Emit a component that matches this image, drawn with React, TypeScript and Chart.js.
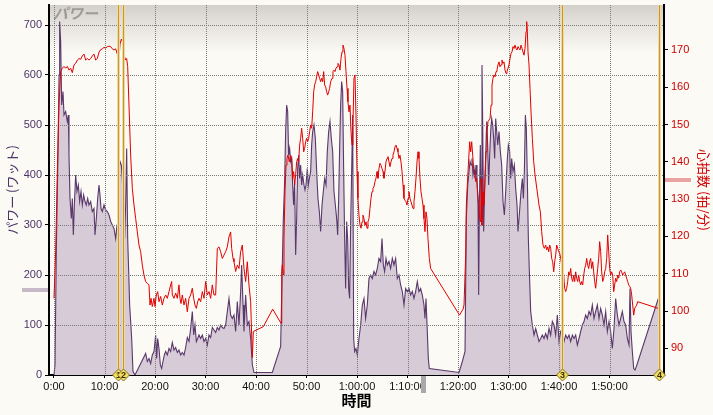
import React, { useEffect, useRef } from 'react';
import { Chart, registerables } from 'chart.js';

Chart.register(...registerables);

// ---------- data (minutes / watts / bpm) ----------
const powerMinA = [0,0.2,0.46,0.75,1.0,1.12,1.32,1.52,1.78,1.98,2.31,2.64,2.84,2.97,3.17,3.43,3.63,3.83,4.03,4.29,4.55,4.82,5.08,5.35,5.61,5.87,6.14,6.4,6.67,6.93,7.26,7.59,7.92,8.12,8.38,8.65,8.91,9.11,9.31,9.57,9.9,10.23,10.56,10.89,11.22,11.55,11.88,12.21,12.48,12.67,12.87,13.07,13.33,13.53,13.73,13.99,14.19,14.39,14.59,14.79,14.98,15.18,15.38,15.64,16.04];
const powerWA = [0,20,250,420,600,707,667,540,567,520,527,507,520,440,353,313,353,280,340,400,367,380,347,367,340,360,347,340,353,340,347,327,333,280,313,353,380,360,333,327,340,330,327,320,307,300,293,273,300,327,407,427,420,393,340,273,340,453,273,207,140,107,73,7,0];

const powerMinB = [18.15,18.48,18.81,19.14,19.47,19.8,20.13,20.33,20.53,20.79,21.06,21.32,21.58,21.85,22.11,22.44,22.77,23.1,23.43,23.76,24.09,24.42,24.75,25.08,25.41,25.74,26.07,26.4,26.73,27.06,27.39,27.66,27.92,28.19,28.45,28.71,29.04,29.37,29.7,30.03,30.36,30.69,31.02,31.35,31.68,32.01,32.34,32.67,33.0,33.33,33.66,33.99,34.32,34.65,34.98,35.31,35.64,35.97,36.3,36.63,36.96,37.16,37.43,37.62,37.95,38.28,38.61,38.94,39.28,39.6];
const powerWB = [43,27,33,23,40,47,80,33,73,53,20,13,27,40,47,40,53,47,65,50,55,45,50,40,45,40,55,75,67,93,127,80,100,67,73,80,73,80,67,73,60,80,75,95,90,85,95,90,100,95,93,100,127,153,120,113,120,87,147,100,167,220,140,87,160,100,107,73,20,5];

const powerMinC = [43.23,44.88,45.21,45.41,45.67,45.87,46.07,46.27,46.46,46.66,46.86,47.06,47.26,47.45,47.65,47.85,48.05,48.25,48.45,48.64,48.84,49.04,49.24,49.5,49.7,49.9,50.16,50.36,50.56,50.82,51.02,51.22,51.48,51.75,52.01,52.27,52.54,52.8,53.07,53.33,53.59,53.86,54.12,54.39,54.65,54.91,55.18,55.44,55.71,55.97,56.17,56.37,56.56,56.76,56.96,57.16,57.36,57.55,57.75,57.95,58.15,58.35,58.54,58.74,58.94,59.14,59.34,59.53,59.8,60.06,60.39,60.72,61.05,61.38,61.71,62.04,62.37,62.7,63.03,63.36,63.69,64.02,64.35,64.68,64.95,65.21,65.47,65.74,66.0,66.33,66.66,66.99,67.32,67.65,67.98,68.31,68.64,68.97,69.3,69.63,69.96,70.29,70.62,70.95,71.28,71.61,71.94,72.27,72.6,72.93,73.26,73.46,73.66,73.92,74.12,74.32];
const powerWC = [5,57,220,313,387,487,540,527,440,453,427,433,380,340,387,240,313,413,440,393,420,380,400,380,370,380,413,380,393,407,460,487,500,473,407,353,327,287,340,367,393,380,447,487,507,473,447,367,340,313,280,353,453,540,587,567,407,273,173,307,273,173,153,300,407,520,73,47,53,40,73,100,140,153,113,140,193,200,193,207,200,213,233,227,273,220,207,233,220,227,213,233,220,233,193,200,180,167,140,173,167,173,160,167,153,167,187,167,173,160,140,113,153,87,33,13];

const powerMinD = [80.2,80.86,81.39,81.65,81.92,82.18,82.38,82.58,82.77,82.97,83.17,83.37,83.57,83.76,83.96,84.09,84.23,84.42,84.62,84.75,84.89,85.08,85.28,85.48,85.68,85.88,86.07,86.27,86.47,86.67,86.87,87.06,87.26,87.46,87.66,87.86,88.12,88.38,88.65,88.91,89.18,89.44,89.77,89.97,90.23,90.43,90.63,90.89,91.16,91.42,91.69,91.88,92.08,92.28,92.48,92.74,92.94,93.14,93.34,93.53,93.73,93.93,94.13,94.39,94.72,95.05,95.38,95.71,96.04,96.37,96.7,97.03,97.36,97.69,98.02,98.35,98.68,99.01,99.34,99.67,100.0,100.33,100.66,100.99,101.32,101.65,101.98,102.31,102.64,102.97,103.3,103.63,103.96,104.29,104.62,104.95,105.28,105.61,105.94,106.27,106.6,106.93,107.26,107.59,107.92,108.25,108.58,108.91,109.24,109.57,109.9,110.23,110.56,110.89,111.22,111.55,111.88,112.21,112.54,112.87,113.2,113.53,113.86,114.06,114.26,114.52,114.79,115.05,115.32,119.67];
const powerWD = [5,27,47,313,380,407,427,420,433,400,413,393,420,387,340,160,340,460,313,620,500,287,373,440,507,460,380,440,487,513,500,473,433,513,487,460,487,447,420,347,320,367,433,460,447,393,433,407,420,373,340,287,313,340,367,393,353,407,520,493,393,273,207,127,100,80,93,80,67,73,80,73,83,73,93,80,107,100,80,120,67,87,80,67,80,73,80,67,80,73,80,60,73,87,100,107,120,113,127,120,140,113,127,140,113,133,120,100,127,87,107,87,53,93,153,120,100,113,127,107,100,73,60,173,87,47,13,10,17,153];

const hrMinA = [0,0.33,0.66,0.99,1.32,1.65,1.98,2.31,2.64,2.97,3.3,3.63,3.96,4.29,4.62,4.95,5.28,5.61,5.94,6.27,6.6,6.93,7.26,7.59,7.92,8.25,8.58,8.91,9.24,9.57,9.9,10.23,10.56,10.89,11.22,11.55,11.88,12.21,12.54,12.74,12.87,13.07,13.33,13.53,13.73,13.93,14.19,14.39,14.59,14.85,15.18,15.51,15.84,16.17,16.5,16.83,17.16,17.49,17.82,18.15,18.48,18.81,19.01,19.21,19.47,19.8,20.0,20.26,20.53,20.79,21.12,21.45,21.78,22.11,22.44,22.77,23.1,23.3,23.43,23.76,24.09,24.42,24.75,24.95,25.15,25.41,25.74,26.07,26.4,26.73,27.06,27.39,27.66,27.92,28.19,28.45,28.71,29.04,29.37,29.7,30.03,30.36,30.69,31.02,31.35,31.68,32.01,32.34,32.67,33.0,33.33,33.66,33.99,34.32,34.65,34.98,35.18,35.45,35.64,35.97,36.3,36.63,36.96,37.29,37.62,37.95,38.28,38.61,38.94,39.28,39.47];
const hrBpmA = [103.4,115.9,137.3,155.2,164.2,165.1,165.6,165.1,165.6,164.6,165.1,163.9,166.0,166.4,167.3,167.7,167.5,168.4,168.9,167.3,167.7,167.3,167.7,168.4,168.9,167.3,167.7,169.4,170.1,170.3,170.7,170.5,170.9,171.0,170.9,170.3,170.0,170.3,168.9,167.3,167.7,171.6,172.9,172.4,170.7,168.4,167.3,167.7,165.6,155.2,141.8,132.9,128.4,124.8,121.2,117.7,115.9,112.3,109.6,107.9,107.4,107.0,101.6,103.4,101.2,103.4,101.2,104.3,105.2,102.5,103.9,101.6,103.4,104.3,103.4,105.2,107.0,107.9,104.3,103.4,104.8,103.4,107.0,103.4,102.0,104.3,101.6,103.4,99.8,103.4,104.3,106.1,103.4,101.6,100.7,102.5,103.4,102.5,105.2,103.4,107.9,104.3,105.2,103.4,107.0,104.3,104.3,116.8,117.2,115.9,114.1,115.0,115.9,117.2,119.9,121.2,116.8,114.1,113.2,110.6,112.3,111.4,115.9,117.7,111.4,107.9,113.2,107.0,102.5,87.5,94.5];

const hrMinB = [41.45,43.3,44.95,45.1,45.21,45.41,45.54,45.74,45.94,46.13,46.33,46.6,46.86,47.06,47.26,47.45,47.65,47.85,48.05,48.25,48.45,48.64,48.84,49.04,49.24,49.44,49.63,49.83,50.03,50.23,50.43,50.62,50.82,51.02,51.22,51.42,51.61,51.81,52.01,52.21,52.41,52.6,52.8,53.0,53.2,53.4,53.59,53.79,53.99,54.19,54.39,54.58,54.78,55.05,55.24,55.44,55.64,55.84,56.04,56.23,56.43,56.63,56.83,57.03,57.22,57.42,57.62,57.82,58.02,58.21,58.41,58.61,58.81,59.01,59.2,59.4,59.6,59.8,60.0,60.19,60.39,60.59,60.79,60.99,61.18,61.38,61.58,61.78,61.98,62.17,62.37,62.57,62.77,62.97,63.16,63.36,63.56,63.76,63.96,64.15,64.35,64.55,64.75,64.95,65.15,65.34,65.54,65.74,65.94,66.13,66.33,66.53,66.73,66.93,67.12,67.32,67.52,67.72,67.92,68.11,68.31,68.51,68.71,68.91,69.11,69.3,69.5,69.7,69.9,70.1,70.29,70.49,70.69,70.89,71.09,71.28,71.48,71.68,71.88,72.08,72.27,72.47,72.67,72.87,73.07,73.26,73.46,73.66,73.86,74.05,74.32,74.58];
const hrBpmB = [95.8,100.5,96.7,110.6,112.4,109.7,119.5,132.0,139.1,140.9,141.8,140.0,141.8,140.9,135.6,137.4,133.8,136.5,140.0,140.9,140.0,144.5,146.3,149.0,146.3,142.7,143.6,145.4,146.3,145.4,146.3,148.1,149.9,149.0,153.4,158.8,160.6,161.5,162.8,164.2,163.3,162.4,161.5,162.4,161.5,164.2,160.6,160.1,158.8,157.9,158.8,159.7,161.5,162.4,164.2,164.6,164.2,165.1,165.5,166.4,166.0,164.6,167.7,169.5,171.3,170.4,168.6,164.2,159.7,156.1,153.4,155.2,148.1,144.5,149.9,162.4,163.3,152.5,137.4,130.2,125.7,123.0,122.2,123.9,125.7,124.8,123.0,123.9,122.2,123.9,124.8,127.5,130.2,132.0,132.9,133.3,134.7,135.6,137.4,135.6,138.2,139.6,139.1,138.2,137.4,135.6,137.4,140.0,140.9,141.4,140.0,138.7,140.0,140.9,141.8,142.7,144.0,144.5,143.6,142.7,140.9,141.8,140.0,137.4,133.8,130.2,129.7,129.3,128.4,130.2,132.0,130.2,129.3,128.4,127.5,129.3,132.0,135.6,140.0,142.7,140.9,135.6,132.0,130.2,128.4,124.8,121.3,126.6,124.8,119.5,114.1,111.4];

const hrMinC = [80.3,81.0,81.19,81.52,81.65,81.98,82.31,82.51,82.71,82.91,83.1,83.3,83.5,83.7,83.9,84.09,84.29,84.49,84.62,84.75,84.95,85.15,85.35,85.55,85.74,85.94,86.14,86.34,86.54,86.73,86.93,87.13,87.33,87.53,87.72,87.92,88.12,88.32,88.52,88.71,88.91,89.11,89.31,89.51,89.7,89.9,90.1,90.3,90.5,90.7,90.89,91.09,91.29,91.49,91.69,91.88,92.08,92.28,92.48,92.68,92.87,93.07,93.27,93.47,93.6,93.73,93.86,94.06,94.26,94.46,94.72,94.99,95.25,95.51,95.78,96.04,96.31,96.57,96.83,97.1,97.36,97.56,97.76,97.96,98.15,98.35,98.55,98.75,98.95,99.14,99.34,99.54,99.74,99.94,100.13,100.33,100.53,100.73,100.93,101.12,101.32,101.52,101.72,101.92,102.11,102.31,102.51,102.71,102.91,103.1,103.3,103.5,103.7,103.9,104.09,104.29,104.49,104.69,104.89,105.08,105.28,105.48,105.68,105.88,106.07,106.27,106.47,106.67,106.87,107.06,107.26,107.46,107.66,107.86,108.05,108.25,108.45,108.65,108.85,109.04,109.24,109.44,109.64,109.84,110.03,110.23,110.43,110.63,110.83,111.02,111.22,111.42,111.62,111.82,112.01,112.21,112.41,112.61,112.81,113.01,113.2,113.4,113.6,113.8,114.0,114.19,114.39,114.59,114.79,114.99,115.18,115.38,115.58,119.67];
const hrBpmC = [98.9,100.5,101.6,115.0,128.4,137.4,145.4,142.7,145.4,141.8,138.2,137.4,134.7,135.6,132.0,128.4,124.8,123.9,135.6,123.0,132.0,128.4,135.6,142.7,148.1,150.8,151.2,151.6,155.2,160.6,162.4,163.3,162.8,164.2,164.6,166.0,166.8,165.5,166.0,167.3,166.4,166.8,164.6,163.7,164.2,165.1,166.0,167.7,169.1,169.5,170.9,170.4,171.3,170.4,170.0,170.9,170.4,170.0,171.3,170.4,169.5,168.6,170.4,174.9,177.6,174.9,169.5,166.0,159.7,153.4,146.3,140.0,136.5,133.8,131.1,128.4,126.6,121.3,117.7,116.8,117.7,116.4,117.2,115.9,117.7,116.8,114.1,113.2,110.5,113.2,115.0,117.7,116.8,115.9,115.5,114.1,112.3,111.4,109.6,106.1,105.2,106.1,107.9,110.5,109.6,111.4,108.8,107.9,109.6,107.9,110.5,108.8,107.9,109.6,107.9,107.0,107.9,107.0,109.6,111.4,112.3,114.1,112.3,111.4,113.2,114.1,111.4,113.2,110.5,107.9,106.1,108.8,111.4,114.1,118.6,115.9,110.5,107.9,108.8,110.5,111.4,114.1,120.4,115.9,111.4,109.6,110.5,109.6,105.2,107.0,108.8,107.9,109.6,108.8,110.5,111.0,110.5,109.6,110.1,110.5,109.6,108.8,107.9,107.0,106.6,106.1,104.3,101.6,98.9,100.7,101.2,101.6,102.5,100.7];

const timeTicks = [0, 10, 20, 30, 40, 50, 60, 70, 80, 90, 100, 110];
const powerTicks = [0, 100, 200, 300, 400, 500, 600, 700];
const hrTicks = [90, 100, 110, 120, 130, 140, 150, 160, 170];
const lapMin = [12.73, 13.72, 100.65, 119.86];
const lapLabels = ['1', '2', '3', '4'];
const avgPower = 170;
const avgHr = 135;
const cursorMin = 72.97;

// ---------- styling ----------
const X_MIN = -0.99, X_MAX = 120.79;
const P_MAX = 740;
const HR_MIN = 82.84, HR_MAX = 182.06;
const BG = '#fcfaf5';
const TICK_FONT = '"Liberation Sans", Arial, sans-serif';
const JP_FONT = '"Noto Sans CJK JP", sans-serif';
const PURPLE = '#4b3467';
const RED_TXT = '#d00000';

function fmtTime(v: number): string {
  const m = Math.round(v);
  if (m < 60) return `${m}:00`;
  const h = Math.floor(m / 60);
  return `${h}:${String(m % 60).padStart(2, '0')}:00`;
}

function toXY(t: number[], v: number[]) {
  return t.map((x, i) => ({ x, y: v[i] }));
}

const decorPlugin = {
  id: 'decor',
  beforeDraw(chart: any) {
    const { ctx, width, height } = chart;
    ctx.save();
    ctx.fillStyle = BG;
    ctx.fillRect(0, 0, width, height);
    ctx.restore();
  },
  beforeDatasetsDraw(chart: any) {
    const { ctx, chartArea: a } = chart;
    ctx.save();
    const h = 48;
    const g = ctx.createLinearGradient(0, a.top, 0, a.top + h);
    g.addColorStop(0, '#d3cfca');
    g.addColorStop(0.3, '#e1ded9');
    g.addColorStop(1, BG);
    ctx.fillStyle = g;
    ctx.fillRect(a.left + 1, a.top, a.right - a.left - 2, h);
    ctx.font = `italic bold 15px ${JP_FONT}`;
    ctx.fillStyle = '#9d9b99';
    ctx.textBaseline = 'top';
    ctx.textAlign = 'left';
    ctx.fillText('パワー', a.left + 4, a.top + 1);
    ctx.restore();
  },
  afterDatasetDraw(chart: any, args: any) {
    if (args.index !== 1) return;
    const { ctx, chartArea: a, scales } = chart;
    ctx.save();
    ctx.strokeStyle = '#7a7a7a';
    ctx.lineWidth = 1;
    ctx.setLineDash([1, 1]);
    ctx.beginPath();
    for (const v of powerTicks) {
      if (v === 0) continue;
      const y = Math.round(scales.y.getPixelForValue(v)) + 0.5;
      ctx.moveTo(a.left + 1, y);
      ctx.lineTo(a.right - 1, y);
    }
    for (const v of timeTicks) {
      const x = Math.round(scales.x.getPixelForValue(v)) + 0.5;
      ctx.moveTo(x, a.top);
      ctx.lineTo(x, a.bottom - 1);
    }
    ctx.stroke();
    ctx.restore();
  },
  afterDatasetsDraw(chart: any) {
    const { ctx, chartArea: a, scales } = chart;
    ctx.save();
    for (const t of lapMin) {
      const x = Math.round(scales.x.getPixelForValue(t));
      ctx.fillStyle = '#f1da96';
      ctx.fillRect(x - 1, a.top, 3, a.bottom - a.top);
      ctx.fillStyle = '#c6953f';
      ctx.fillRect(x, a.top, 1, a.bottom - a.top);
    }
    lapMin.forEach((t, i) => {
      const x = Math.round(scales.x.getPixelForValue(t)) + 0.5;
      const y = a.bottom;
      const s = 6;
      ctx.beginPath();
      ctx.moveTo(x, y - s);
      ctx.lineTo(x + s, y);
      ctx.lineTo(x, y + s);
      ctx.lineTo(x - s, y);
      ctx.closePath();
      ctx.fillStyle = '#f2de62';
      ctx.fill();
      ctx.strokeStyle = '#857326';
      ctx.lineWidth = 1;
      ctx.stroke();
      ctx.fillStyle = '#3a3000';
      ctx.font = `bold 9px ${TICK_FONT}`;
      ctx.textAlign = 'center';
      ctx.textBaseline = 'middle';
      ctx.fillText(lapLabels[i], x, y + 0.5);
    });
    const yp = Math.round(scales.y.getPixelForValue(avgPower));
    ctx.fillStyle = '#c8b9c8';
    ctx.fillRect(22, yp - 2, 26, 4);
    const yh = Math.round(scales.y2.getPixelForValue(avgHr));
    ctx.fillStyle = '#eaa3a3';
    ctx.fillRect(a.right + 1, yh - 2, 26, 4);
    const xc = Math.round(scales.x.getPixelForValue(cursorMin));
    ctx.fillStyle = '#a9a9a9';
    ctx.fillRect(xc - 2, a.bottom + 1, 5, 17);
    ctx.restore();
  },
};

export default function App() {
  const ref = useRef<HTMLCanvasElement | null>(null);

  useEffect(() => {
    if (!ref.current) return;
    const powerData = [
      ...toXY(powerMinA, powerWA),
      ...toXY(powerMinB, powerWB),
      ...toXY(powerMinC, powerWC),
      ...toXY(powerMinD, powerWD),
    ];
    const hrData = [
      ...toXY(hrMinA, hrBpmA),
      ...toXY(hrMinB, hrBpmB),
      ...toXY(hrMinC, hrBpmC),
    ];
    const chart = new Chart(ref.current, {
      type: 'line',
      data: {
        datasets: [
          {
            label: '心拍数',
            data: hrData,
            yAxisID: 'y2',
            borderColor: '#e20000',
            borderWidth: 1,
            pointRadius: 0,
            fill: false,
            tension: 0,
          },
          {
            label: 'パワー',
            data: powerData,
            yAxisID: 'y',
            borderColor: '#5a386c',
            borderWidth: 1.1,
            backgroundColor: '#d6cbd6',
            fill: 'origin',
            pointRadius: 0,
            tension: 0,
          },
        ],
      } as any,
      options: {
        responsive: false,
        maintainAspectRatio: false,
        devicePixelRatio: 1,
        animation: false,
        events: [],
        layout: { padding: { top: 5, left: 0, right: 0, bottom: 0 } },
        plugins: { legend: { display: false }, tooltip: { enabled: false } },
        scales: {
          x: {
            type: 'linear',
            min: X_MIN,
            max: X_MAX,
            afterBuildTicks: (s: any) => { s.ticks = timeTicks.map((v) => ({ value: v })); },
            afterFit: (s: any) => { s.height = 40; s.paddingLeft = 0; s.paddingRight = 0; },
            ticks: {
              autoSkip: false, maxRotation: 0, minRotation: 0, color: '#111',
              font: { family: TICK_FONT, size: 11 }, padding: 2,
              callback: (v: any) => fmtTime(Number(v)),
            },
            grid: { drawOnChartArea: false, drawTicks: true, tickLength: 3, color: '#000' },
            border: { display: true, color: '#000', width: 2 },
            title: {
              display: true, text: '時間', color: '#000',
              font: { family: JP_FONT, size: 15, weight: 'bold' },
              padding: { top: 0, bottom: 6 },
            },
          },
          y: {
            type: 'linear',
            position: 'left',
            min: 0,
            max: P_MAX,
            afterBuildTicks: (s: any) => { s.ticks = powerTicks.map((v) => ({ value: v })); },
            afterFit: (s: any) => { s.width = 49; s.paddingTop = 0; s.paddingBottom = 0; },
            ticks: { color: PURPLE, font: { family: TICK_FONT, size: 11 }, padding: 3 },
            grid: { drawOnChartArea: false, drawTicks: true, tickLength: 4, color: '#000' },
            border: { display: true, color: '#000', width: 2 },
            title: {
              display: true, text: 'パワー (ワット)', color: PURPLE,
              font: { family: JP_FONT, size: 13 },
              padding: { top: 4, bottom: 0 },
            },
          },
          y2: {
            type: 'linear',
            position: 'right',
            min: HR_MIN,
            max: HR_MAX,
            afterBuildTicks: (s: any) => { s.ticks = hrTicks.map((v) => ({ value: v })); },
            afterFit: (s: any) => { s.width = 49; s.paddingTop = 0; s.paddingBottom = 0; },
            ticks: { color: RED_TXT, font: { family: TICK_FONT, size: 11 }, padding: 3 },
            grid: { drawOnChartArea: false, drawTicks: true, tickLength: 4, color: '#000' },
            border: { display: true, color: '#000', width: 2 },
            title: {
              display: true, text: '心拍数 (拍/分)', color: RED_TXT,
              font: { family: JP_FONT, size: 13 },
              padding: { top: 1, bottom: 0 },
            },
          },
        },
      } as any,
      plugins: [decorPlugin as any],
    });
    return () => chart.destroy();
  }, []);

  return (
    <div style={{ position: 'fixed', left: 0, top: 0, width: 713, height: 415, background: BG }}>
      <canvas ref={ref} width={713} height={415} style={{ display: 'block', width: 713, height: 415 }} />
    </div>
  );
}
